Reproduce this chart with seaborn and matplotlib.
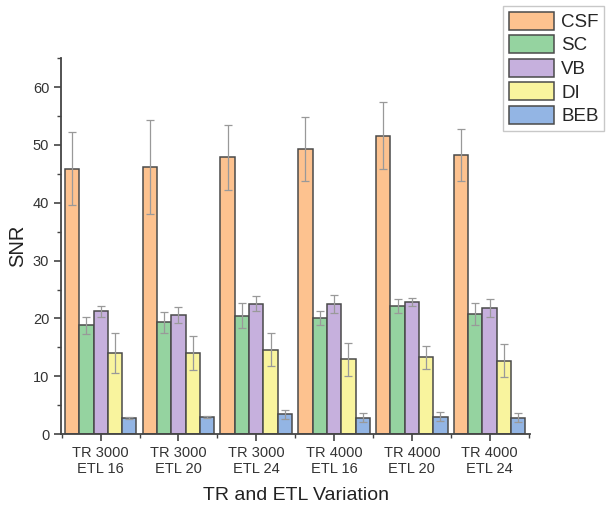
import matplotlib

matplotlib.use("Agg")
import matplotlib.pyplot as plt
import numpy as np
import pandas as pd
import seaborn as sns
from matplotlib.ticker import AutoMinorLocator, MultipleLocator

# values
settings = [
    "TR 3000\nETL 16",
    "TR 3000\nETL 20",
    "TR 3000\nETL 24",
    "TR 4000\nETL 16",
    "TR 4000\nETL 20",
    "TR 4000\nETL 24",
]
tissues = ["CSF", "SC", "VB", "DI", "BEB"]

csf = [45.9, 46.2, 47.9, 49.3, 51.6, 48.3]
csf_err = [6.3, 8.2, 5.6, 5.6, 5.8, 4.5]
sc = [18.8, 19.3, 20.5, 20.0, 22.2, 20.8]
sc_err = [1.5, 1.8, 2.1, 1.2, 1.2, 1.9]
vb = [21.2, 20.6, 22.5, 22.5, 22.9, 21.8]
vb_err = [0.9, 1.4, 1.3, 1.6, 0.7, 1.5]
di = [14.0, 14.0, 14.6, 12.9, 13.3, 12.7]
di_err = [3.4, 2.9, 2.9, 2.8, 2.0, 2.8]
beb = [2.8, 2.9, 3.4, 2.8, 3.0, 2.8]
beb_err = [0.2, 0.2, 0.8, 0.8, 0.8, 0.8]

colors = ["#FDC28F", "#95D3A0", "#C6B0DD", "#F9F49E", "#93B5E4"]

means = [csf, sc, vb, di, beb]
errors = [csf_err, sc_err, vb_err, di_err, beb_err]

df = pd.DataFrame(
    [
        {"setting": s, "tissue": t, "snr": v}
        for t, vals in zip(tissues, means)
        for s, v in zip(settings, vals)
    ]
)

sns.set_style("ticks")
plt.rcParams["font.family"] = ["Liberation Sans", "DejaVu Sans"]

fig = plt.figure(figsize=(6.06, 5.14), dpi=100)
ax = fig.add_axes([0.1007, 0.1556, 0.774, 0.731])

sns.barplot(
    data=df,
    x="setting",
    y="snr",
    hue="tissue",
    order=settings,
    hue_order=tissues,
    palette=colors,
    saturation=1,
    width=0.92,
    errorbar=None,
    edgecolor="#4a4a4a",
    linewidth=1.1,
    ax=ax,
)

# error bars on top of each bar
for container, errs in zip(ax.containers, errors):
    xs = [p.get_x() + p.get_width() / 2 for p in container]
    ys = [p.get_height() for p in container]
    ax.errorbar(
        xs,
        ys,
        yerr=errs,
        fmt="none",
        ecolor="#999999",
        elinewidth=0.9,
        capsize=3,
        capthick=0.9,
        zorder=5,
    )

ax.set_ylim(0, 65)
ax.set_xlim(-0.51, 5.52)
ax.yaxis.set_major_locator(MultipleLocator(10))
ax.yaxis.set_minor_locator(AutoMinorLocator(2))
ax.set_xticks(np.arange(-0.5, 6, 1), minor=True)

ax.set_xlabel("TR and ETL Variation", fontsize=14, color="#222222", labelpad=8)
ax.set_ylabel("SNR", fontsize=14.5, color="#222222", labelpad=4)
ax.tick_params(axis="both", which="major", labelsize=10.5, length=5, width=1.2,
               color="#444444", labelcolor="#333333")
ax.tick_params(axis="both", which="minor", length=3, width=1.0, color="#444444")

for side in ["top", "right"]:
    ax.spines[side].set_visible(False)
for side in ["left", "bottom"]:
    ax.spines[side].set_linewidth(1.3)
    ax.spines[side].set_color("#444444")

handles, labels = ax.get_legend_handles_labels()
ax.get_legend().remove()
fig.legend(
    handles,
    labels,
    loc="upper left",
    bbox_to_anchor=(503 / 606, 1 - 6 / 514),
    fontsize=13.5,
    frameon=True,
    fancybox=False,
    edgecolor="#bbbbbb",
    handlelength=2.4,
    handleheight=1.1,
    handletextpad=0.4,
    labelspacing=0.22,
    borderpad=0.3,
    borderaxespad=0,
)

fig.savefig("out.png", dpi=100)
